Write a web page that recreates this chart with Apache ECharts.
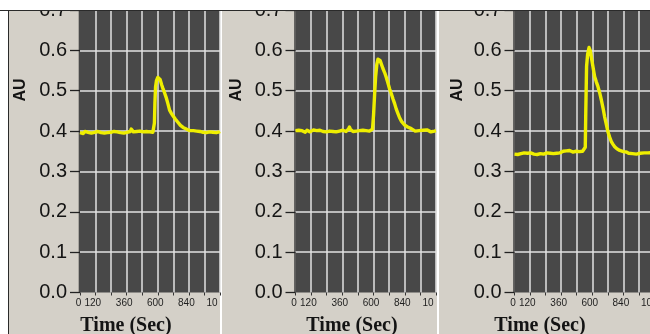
<!DOCTYPE html>
<html>
<head>
<meta charset="utf-8">
<script src="https://cdn.jsdelivr.net/npm/echarts@6/dist/echarts.min.js"></script>
<style>
html,body{margin:0;padding:0;background:#fff;overflow:hidden;width:650px;height:334px;}
#chart{width:690px;height:334px;}
</style>
</head>
<body>
<div id="chart"></div>
<script>
// ---------- data ----------
const xTickLabels = [0, 120, 360, 600, 840, 1080];
const yTickLabels = [0.0, 0.1, 0.2, 0.3, 0.4, 0.5, 0.6, 0.7];
const xAxisTitle = 'Time (Sec)';
const yAxisTitle = 'AU';

const time1 = [0,12,25,38,50,62,75,88,100,112,125,138,150,162,175,188,200,212,225,238,250,262,275,288,300,312,325,338,350,362,375,388,395,402,412,425,438,450,462,475,488,500,512,525,538,550,562,570,574,578,583,590,600,608,618,630,640,652,665,678,691,705,717,735,755,775,795,820,847,862,875,888,900,912,925,938,950,962,975,988,1000,1012,1025,1038,1050,1062,1075,1080];
const au1   = [0.396,0.398,0.394,0.399,0.396,0.397,0.400,0.395,0.398,0.397,0.394,0.399,0.397,0.396,0.400,0.395,0.398,0.396,0.399,0.397,0.395,0.399,0.397,0.398,0.400,0.396,0.398,0.395,0.399,0.397,0.401,0.399,0.405,0.402,0.398,0.396,0.399,0.397,0.400,0.396,0.398,0.397,0.399,0.396,0.398,0.400,0.397,0.400,0.42,0.47,0.51,0.525,0.533,0.535,0.528,0.515,0.505,0.495,0.483,0.468,0.452,0.444,0.438,0.430,0.422,0.414,0.409,0.405,0.401,0.398,0.401,0.397,0.400,0.396,0.399,0.401,0.397,0.399,0.396,0.400,0.398,0.401,0.397,0.399,0.396,0.400,0.398,0.399];

const time2 = [0,12,25,38,50,62,75,88,100,112,125,138,150,162,175,188,200,212,225,238,250,262,275,288,300,312,325,338,350,362,375,388,400,408,415,422,430,442,455,468,480,492,505,518,530,542,555,568,580,592,600,608,616,625,634,642,650,660,672,685,698,710,723,736,749,762,774,787,800,815,838,862,890,905,920,935,950,965,980,995,1010,1025,1040,1055,1068,1080];
const au2   = [0.401,0.398,0.402,0.399,0.401,0.400,0.397,0.402,0.400,0.398,0.401,0.403,0.399,0.401,0.398,0.402,0.400,0.399,0.402,0.398,0.401,0.400,0.403,0.399,0.401,0.398,0.402,0.400,0.399,0.402,0.401,0.399,0.403,0.405,0.410,0.404,0.401,0.399,0.402,0.400,0.398,0.401,0.399,0.402,0.400,0.401,0.403,0.400,0.402,0.405,0.44,0.49,0.535,0.565,0.578,0.580,0.575,0.566,0.555,0.545,0.533,0.520,0.505,0.493,0.480,0.468,0.455,0.444,0.433,0.424,0.415,0.410,0.406,0.403,0.400,0.403,0.401,0.399,0.402,0.400,0.403,0.400,0.398,0.402,0.400,0.401];

const time3 = [0,12,25,38,50,62,75,88,100,112,125,138,150,162,175,188,200,212,225,238,250,262,275,288,300,312,325,338,350,362,375,388,400,412,425,438,450,462,475,488,500,512,525,538,546,550,556,564,575,584,592,605,618,631,644,657,670,683,695,708,721,734,747,760,773,790,812,840,863,880,895,910,925,940,955,970,985,1000,1015,1030,1045,1060,1080];
const au3   = [0.343,0.346,0.342,0.345,0.344,0.341,0.346,0.343,0.345,0.342,0.346,0.344,0.343,0.346,0.342,0.345,0.344,0.347,0.343,0.345,0.346,0.343,0.345,0.347,0.344,0.346,0.345,0.347,0.346,0.348,0.350,0.347,0.351,0.349,0.352,0.350,0.348,0.352,0.350,0.351,0.349,0.352,0.350,0.352,0.360,0.450,0.560,0.590,0.607,0.600,0.584,0.560,0.535,0.522,0.510,0.495,0.477,0.457,0.436,0.417,0.398,0.385,0.374,0.367,0.361,0.356,0.352,0.349,0.348,0.345,0.347,0.344,0.346,0.343,0.347,0.345,0.344,0.346,0.343,0.346,0.345,0.347,0.345];

// ---------- styling / layout ----------
const BEIGE = '#d4d0c8';
const PLOT  = '#484848';
const GRIDC = '#e2e2e2';
const YELLOW = '#eeee00';
const INK = '#141414';
const XFONT = '"Liberation Sans", Arial, sans-serif';

const panels = [
  {left: 80,    width: 140,   t: time1, v: au1, titleX: 126, auX: 21},
  {left: 295.5, width: 140.5, t: time2, v: au2, titleX: 352, auX: 237},
  {left: 514.5, width: 140,   t: time3, v: au3, titleX: 540, auX: 457.5}
];
const TOP = 10, PLOT_H = 282.5;

const grids = [], xAxes = [], yAxes = [], series = [];
const graphics = [
  {type:'rect', shape:{x:8, y:10, width:212, height:324}, style:{fill:BEIGE}, z:-3},
  {type:'rect', shape:{x:222, y:10, width:215, height:324}, style:{fill:BEIGE}, z:-3},
  {type:'rect', shape:{x:439, y:10, width:251, height:324}, style:{fill:BEIGE}, z:-3}
];

const richStyle = pad => ({fontSize:10, color:'#1e1e1e', fontFamily:XFONT, padding:[0,pad,0,0]});

panels.forEach((p, i) => {
  grids.push({left: p.left, top: TOP, width: p.width, height: PLOT_H,
              show: true, backgroundColor: PLOT, borderWidth: 0});
  graphics.push({type:'rect', shape:{x:p.left-1.3, y:TOP, width:1.5, height:PLOT_H}, style:{fill:PLOT}, z:-1});
  xAxes.push({
    type:'value', gridIndex:i, min:0, max:1080, interval:120,
    axisLine:{show:false},
    axisTick:{show:true, length:3, lineStyle:{color:'#333', width:1}},
    splitLine:{show:true, showMinLine:false, lineStyle:{color:GRIDC, width:1.5}},
    axisLabel:{
      margin:6, fontSize:10, color:'#1e1e1e', fontFamily:XFONT, hideOverlap:false,
      showMinLabel:true, showMaxLabel:true,
      formatter: v => {
        if (!xTickLabels.includes(v)) return '';
        const k = v === 0 ? 'n' : (v === 120 ? 'w' : 'm');
        return '{' + k + '|' + v + '}';
      },
      rich:{ n: richStyle(3), m: richStyle(5), w: richStyle(5.5) }
    }
  });
  yAxes.push({
    type:'value', gridIndex:i, min:0, max:0.7, interval:0.1,
    axisLine:{show:false},
    axisTick:{show:true, length:10, lineStyle:{color:'#222', width:1.3}},
    splitLine:{show:true, showMinLine:false, lineStyle:{color:GRIDC, width:1.5}},
    axisLabel:{margin:13, fontSize:20, color:INK, fontFamily:'Liberation Sans',
      formatter: v => yTickLabels.find(t => Math.abs(t - v) < 1e-6).toFixed(1)}
  });
  series.push({
    type:'line', xAxisIndex:i, yAxisIndex:i,
    data: p.t.map((t, k) => [t, p.v[k]]),
    showSymbol:false, symbol:'none',
    lineStyle:{color:YELLOW, width:3.4, join:'round'},
    z:3
  });
  graphics.push({type:'text', x:p.titleX, y:326, z:50,
    style:{text:xAxisTitle, font:'bold 20px "Liberation Serif"', fill:INK, textAlign:'center', textVerticalAlign:'middle'}});
  graphics.push({type:'text', x:p.auX, y:90, rotation:Math.PI/2, z:50,
    style:{text:yAxisTitle, font:'bold 16px "Liberation Sans"', fill:INK, textAlign:'center', textVerticalAlign:'middle'}});
});

graphics.push(
  {type:'rect', shape:{x:217.8, y:296, width:2.2, height:21}, style:{fill:BEIGE}, z:90},
  {type:'rect', shape:{x:220, y:296, width:2, height:21}, style:{fill:'#ffffff'}, z:90},
  {type:'rect', shape:{x:222, y:296, width:22, height:21}, style:{fill:BEIGE}, z:90},
  {type:'rect', shape:{x:433.8, y:296, width:3.2, height:21}, style:{fill:BEIGE}, z:90},
  {type:'rect', shape:{x:437, y:296, width:2, height:21}, style:{fill:'#ffffff'}, z:90},
  {type:'rect', shape:{x:439, y:296, width:22, height:21}, style:{fill:BEIGE}, z:90},
  {type:'rect', shape:{x:0, y:0, width:690, height:10}, style:{fill:'#ffffff'}, z:100},
  {type:'line', shape:{x1:0, y1:10.5, x2:690, y2:10.5}, style:{stroke:'#2a2a2a', lineWidth:1}, z:101},
  {type:'line', shape:{x1:8.5, y1:10, x2:8.5, y2:334}, style:{stroke:'#2a2a2a', lineWidth:1}, z:101}
);

const chart = echarts.init(document.getElementById('chart'), null, {renderer:'canvas'});
chart.setOption({
  animation:false,
  backgroundColor:'#ffffff',
  grid: grids,
  xAxis: xAxes,
  yAxis: yAxes,
  series: series,
  graphic: {elements: graphics}
});
</script>
</body>
</html>
